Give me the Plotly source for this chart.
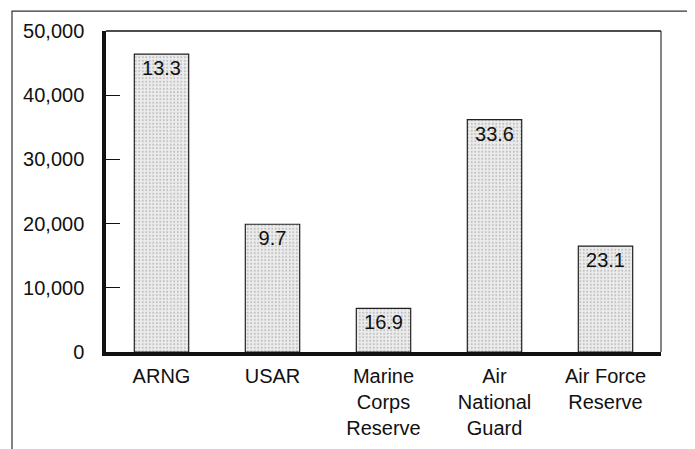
import plotly.graph_objects as go

categories = ["ARNG", "USAR", "Marine<br>Corps<br>Reserve", "Air<br>National<br>Guard", "Air Force<br>Reserve"]
values = [46400, 19900, 6800, 36200, 16500]
bar_labels = ["13.3", "9.7", "16.9", "33.6", "23.1"]
y_ticks = [0, 10000, 20000, 30000, 40000, 50000]

FONT = "Liberation Sans, Arial, Helvetica, sans-serif"
FS = 20

W, H = 695, 449
OFF = 8  # browser body margin compensation
# target pixel geometry in the screenshot
PL, PR, PT, PB = 106, 661, 28, 352
L, T = PL - OFF, PT - OFF
R = W - (PR - OFF)
B = H - (PB - OFF)
pw, ph = W - L - R, H - T - B


def px_x(x):
    return (x - OFF - L) / pw


def px_y(y):
    return 1 - (y - OFF - T) / ph


fig = go.Figure()
fig.add_trace(go.Bar(
    x=categories,
    y=values,
    text=bar_labels,
    textposition="inside",
    insidetextanchor="end",
    constraintext="none",
    textangle=0,
    textfont=dict(family=FONT, size=FS, color="#111111"),
    marker=dict(
        color="#e6e6e6",
        line=dict(color="#222222", width=1.2),
        pattern=dict(shape=".", fgcolor="#909090", bgcolor="#ececec", size=3.5, solidity=0.25, fillmode="overlay"),
    ),
    width=0.49,
))

shapes = [
    # outer frame
    dict(type="rect", xref="paper", yref="paper",
         x0=px_x(12), x1=px_x(688), y0=px_y(480), y1=px_y(8),
         line=dict(color="#333333", width=1.2), fillcolor="rgba(0,0,0,0)"),
    # top frame of plot
    dict(type="line", xref="paper", yref="paper", x0=0, x1=1, y0=1, y1=1,
         line=dict(color="#111111", width=1.5)),
    # right frame of plot
    dict(type="line", xref="paper", yref="paper", x0=1, x1=1, y0=0, y1=1,
         line=dict(color="#333333", width=1.2)),
]

fig.update_layout(
    width=W, height=H,
    margin=dict(l=L, r=R, t=T, b=B, pad=0),
    paper_bgcolor="white", plot_bgcolor="white",
    font=dict(family=FONT, size=FS, color="#111111"),
    showlegend=False,
    bargap=0.51,
    shapes=shapes,
    xaxis=dict(
        showgrid=False, zeroline=False,
        showline=True, linecolor="#111111", linewidth=3.5,
        ticks="", tickfont=dict(family=FONT, size=FS, color="#111111"),
        ticklabelstandoff=3,
    ),
    yaxis=dict(
        range=[0, 50000], tickvals=y_ticks, tickformat=",",
        showgrid=False, zeroline=False,
        showline=True, linecolor="#111111", linewidth=3.5,
        ticks="inside", ticklen=14, tickwidth=1, tickcolor="#111111",
        tickfont=dict(family=FONT, size=FS, color="#111111"),
        ticklabelstandoff=14,
    ),
)

fig.write_html("out.html")
